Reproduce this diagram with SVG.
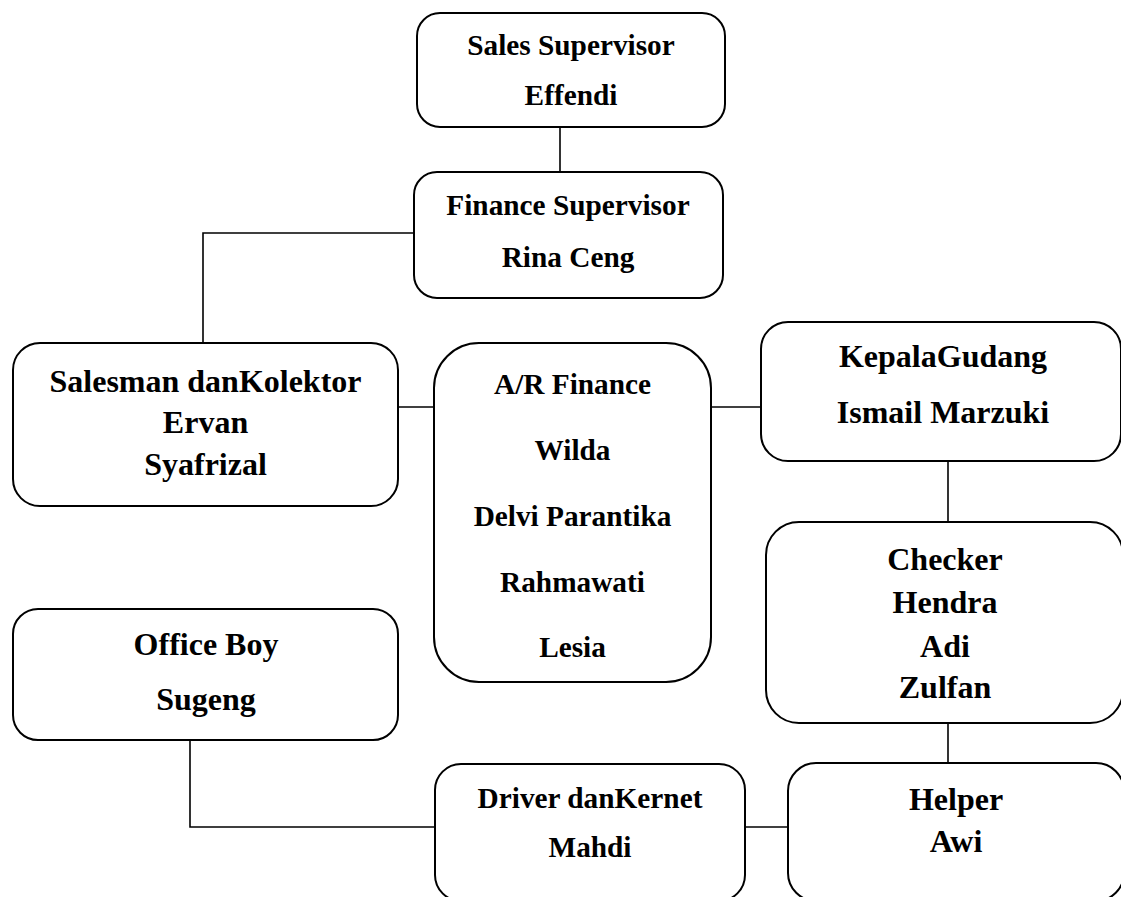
<svg xmlns="http://www.w3.org/2000/svg" width="1121" height="897" viewBox="0 0 1121 897">
<style>
.box{fill:#fff;stroke:#000;stroke-width:2}
.ln{fill:none;stroke:#000;stroke-width:1.6}
text{font-family:"Liberation Serif","Times New Roman",serif;font-weight:bold;fill:#000;text-anchor:middle}
.s{font-size:29.3px}
.l{font-size:32px}
</style>
<rect width="1121" height="897" fill="#fff"/>
<g id="connectors">
<path class="ln" d="M560,127 V172"/>
<path class="ln" d="M414,233 H203 V343"/>
<path class="ln" d="M398,407 H434"/>
<path class="ln" d="M711,407 H761"/>
<path class="ln" d="M948,461 V522"/>
<path class="ln" d="M948,723 V763"/>
<path class="ln" d="M190,740 V827 H435"/>
<path class="ln" d="M745,827 H788"/>
</g>
<g id="sales-supervisor">
<rect class="box" x="417" y="13" width="308" height="114" rx="23"/>
<text class="s" x="571" y="55">Sales Supervisor</text>
<text class="s" x="571" y="105">Effendi</text>
</g>
<g id="finance-supervisor">
<rect class="box" x="414" y="172" width="309" height="126" rx="23"/>
<text class="s" x="568" y="215">Finance Supervisor</text>
<text class="s" x="568" y="267">Rina Ceng</text>
</g>
<g id="salesman">
<rect class="box" x="13" y="343" width="385" height="163" rx="27"/>
<text class="l" x="205.5" y="392">Salesman danKolektor</text>
<text class="l" x="205.5" y="433">Ervan</text>
<text class="l" x="205.5" y="475">Syafrizal</text>
</g>
<g id="ar-finance">
<rect class="box" x="434" y="343" width="277" height="339" rx="45"/>
<text class="s" x="572.5" y="394">A/R Finance</text>
<text class="s" x="572.5" y="460">Wilda</text>
<text class="s" x="572.5" y="526">Delvi Parantika</text>
<text class="s" x="572.5" y="592">Rahmawati</text>
<text class="s" x="572.5" y="657">Lesia</text>
</g>
<g id="kepala-gudang">
<rect class="box" x="761" y="322" width="360" height="139" rx="27"/>
<text class="l" x="943" y="367">KepalaGudang</text>
<text class="l" x="943" y="423">Ismail Marzuki</text>
</g>
<g id="checker">
<rect class="box" x="766" y="522" width="357" height="201" rx="33"/>
<text class="l" x="945" y="570">Checker</text>
<text class="l" x="945" y="613">Hendra</text>
<text class="l" x="945" y="657">Adi</text>
<text class="l" x="945" y="698">Zulfan</text>
</g>
<g id="office-boy">
<rect class="box" x="13" y="609" width="385" height="131" rx="25"/>
<text class="l" x="206" y="655">Office Boy</text>
<text class="l" x="206" y="710">Sugeng</text>
</g>
<g id="driver">
<rect class="box" x="435" y="764" width="310" height="137" rx="26"/>
<text class="s" x="590" y="808">Driver danKernet</text>
<text class="s" x="590" y="857">Mahdi</text>
</g>
<g id="helper">
<rect class="box" x="788" y="763" width="336" height="138" rx="28"/>
<text class="l" x="956" y="810">Helper</text>
<text class="l" x="956" y="852">Awi</text>
</g>
</svg>
